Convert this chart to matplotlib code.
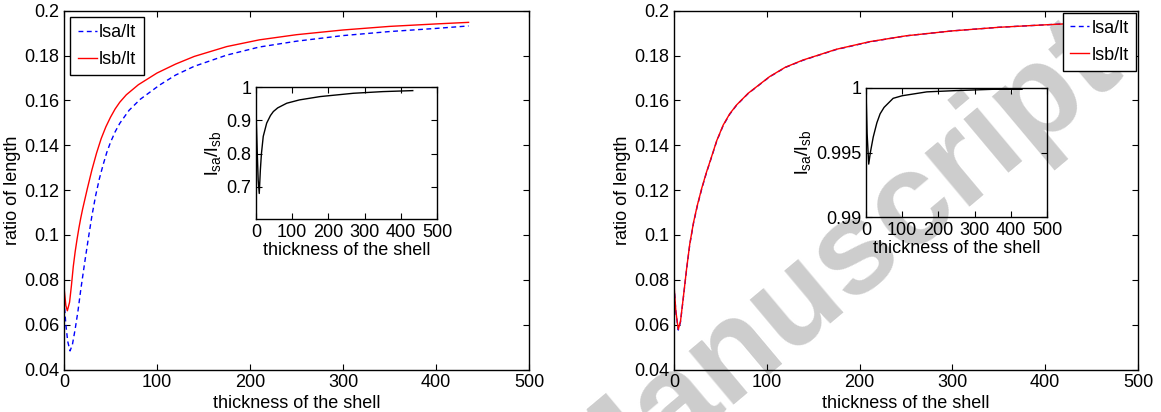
import matplotlib
matplotlib.use("Agg")
import matplotlib.pyplot as plt

plt.rcParams['font.family'] = ['Liberation Sans', 'DejaVu Sans']
plt.rcParams['mathtext.default'] = 'regular'

# ---------------- data ----------------
# left panel
left_x_lsb = [0, 2, 3.6, 6, 8, 10, 12, 14, 16, 18, 20, 25, 30, 35, 40, 45, 50, 55, 60,
              67, 80, 100, 120, 140, 175, 210, 250, 300, 350, 400, 435]
left_lsb = [0.0766, 0.0685, 0.0662, 0.0700, 0.0775, 0.0860, 0.0925, 0.0980, 0.1030,
            0.1075, 0.1115, 0.1205, 0.1290, 0.1365, 0.1430, 0.1482, 0.1525, 0.1562,
            0.1592, 0.1625, 0.1670, 0.1722, 0.1762, 0.1796, 0.1840, 0.1870, 0.1893,
            0.1914, 0.1930, 0.1941, 0.1948]
left_x_lsa = [0, 2, 4, 6.5, 9, 12, 15, 18, 22, 26, 30, 34, 38, 42, 46, 50, 55, 60, 70,
              82, 103, 120, 140, 175, 210, 250, 300, 350, 400, 435]
left_lsa = [0.0710, 0.0600, 0.0525, 0.0483, 0.0510, 0.0580, 0.0660, 0.0755, 0.0870,
            0.0980, 0.1085, 0.1175, 0.1250, 0.1312, 0.1368, 0.1413, 0.1460, 0.1498,
            0.1556, 0.1605, 0.1669, 0.1713, 0.1752, 0.1802, 0.1838, 0.1864, 0.1889,
            0.1907, 0.1921, 0.1932]
left_inset_x = [0, 3, 6, 9, 12, 15, 20, 29.5, 40, 48, 60, 85, 120, 177, 269, 350, 433]
left_inset_ratio = [0.93, 0.82, 0.72, 0.68, 0.75, 0.80, 0.852, 0.892, 0.915, 0.927,
                    0.938, 0.952, 0.962, 0.972, 0.982, 0.987, 0.990]

# right panel
right_x = [0, 2, 4.6, 7, 10, 13.6, 17, 21, 25, 30, 35, 39, 46, 53, 60, 67.5, 80, 103,
           120, 139, 175, 211, 250, 300, 350, 400, 435]
right_lsb = [0.0777, 0.0660, 0.0579, 0.0615, 0.0720, 0.0850, 0.0960, 0.1055, 0.1130,
             0.1210, 0.1280, 0.1330, 0.1420, 0.1490, 0.1540, 0.1580, 0.1632, 0.1706,
             0.1748, 0.1780, 0.1828, 0.1862, 0.1888, 0.1910, 0.1926, 0.1937, 0.1944]
right_lsa = [0.0776, 0.0657, 0.0576, 0.0612, 0.0717, 0.0847, 0.0957, 0.1052, 0.1127,
             0.1207, 0.1278, 0.1328, 0.1418, 0.1488, 0.1538, 0.1579, 0.1631, 0.1705,
             0.1747, 0.1779, 0.1827, 0.1861, 0.1888, 0.1910, 0.1926, 0.1937, 0.1944]
right_inset_x = [0, 3, 7.5, 12, 20, 30, 39, 50, 75, 100, 168, 250, 350, 431]
right_inset_ratio = [0.9999, 0.9965, 0.9941, 0.9950, 0.9962, 0.9973, 0.9980, 0.9985,
                     0.9992, 0.9994, 0.9997, 0.9998, 0.9999, 0.9999]

main_yticks = [0.04, 0.06, 0.08, 0.10, 0.12, 0.14, 0.16, 0.18, 0.20]
main_yticklabels = ['0.04', '0.06', '0.08', '0.1', '0.12', '0.14', '0.16', '0.18', '0.2']
xticks = [0, 100, 200, 300, 400, 500]
left_inset_yticks = [0.7, 0.8, 0.9, 1.0]
left_inset_yticklabels = ['0.7', '0.8', '0.9', '1']
right_inset_yticks = [0.99, 0.995, 1.0]
right_inset_yticklabels = ['0.99', '0.995', '1']

FS = 13

fig = plt.figure(figsize=(11.61, 4.12), dpi=100)

# watermark (below everything)
fig.text(832 / 1161, 1 - 270 / 412, 'Manuscript', fontsize=95, fontweight='bold',
         color='#cdcdcd', rotation=40, rotation_mode='anchor',
         ha='center', va='center', zorder=-10,
         family=['Liberation Sans', 'DejaVu Sans'])


def style(ax, fs):
    ax.patch.set_visible(False)
    ax.tick_params(direction='in', top=True, right=True, length=4, width=0.8,
                   labelsize=fs, pad=3.5)
    for s in ax.spines.values():
        s.set_linewidth(1.0)


leg_kw = dict(fontsize=FS, frameon=True, fancybox=False, edgecolor='black',
              framealpha=1, handlelength=1.05, handletextpad=0.15,
              borderpad=0.4, labelspacing=0.55)

# ---------------- left main ----------------
axL = fig.add_axes([64 / 1161, 1 - 369.5 / 412, 465 / 1161, 358.8 / 412])
axL.plot(left_x_lsa, left_lsa, color='b', lw=1.0, dashes=(3.5, 2.5), label='lsa/lt')
axL.plot(left_x_lsb, left_lsb, color='r', lw=1.0, label='lsb/lt')
axL.set_xlim(0, 500)
axL.set_ylim(0.04, 0.2)
axL.set_xticks(xticks)
axL.set_yticks(main_yticks)
axL.set_yticklabels(main_yticklabels)
axL.set_xlabel('thickness of the shell', fontsize=FS, labelpad=2.5)
axL.set_ylabel('ratio of length', fontsize=FS, labelpad=2)
style(axL, FS)
legL = axL.legend(loc='upper left', borderaxespad=0.35, **leg_kw)
legL.get_frame().set_linewidth(1.0)

# left inset
axLi = fig.add_axes([256 / 1161, 1 - 219 / 412, 181 / 1161, 131.7 / 412])
axLi.plot(left_inset_x, left_inset_ratio, color='k', lw=1.0)
axLi.set_xlim(0, 500)
axLi.set_ylim(0.603, 1.0)
axLi.set_xticks(xticks)
axLi.set_yticks(left_inset_yticks)
axLi.set_yticklabels(left_inset_yticklabels)
axLi.set_xlabel('thickness of the shell', fontsize=FS, labelpad=0.5)
axLi.set_ylabel(r'$l_{sa}/l_{sb}$', fontsize=FS + 1, labelpad=2)
style(axLi, FS)

# ---------------- right main ----------------
axR = fig.add_axes([674 / 1161, 1 - 369.5 / 412, 464 / 1161, 358.8 / 412])
axR.plot(right_x, right_lsa, color='b', lw=1.0, dashes=(3.5, 2.5), label='lsa/lt')
axR.plot(right_x, right_lsb, color='r', lw=1.0, label='lsb/lt')
axR.set_xlim(0, 500)
axR.set_ylim(0.04, 0.2)
axR.set_xticks(xticks)
axR.set_yticks(main_yticks)
axR.set_yticklabels(main_yticklabels)
axR.set_xlabel('thickness of the shell', fontsize=FS, labelpad=2.5)
axR.set_ylabel('ratio of length', fontsize=FS, labelpad=2)
style(axR, FS)
legR = axR.legend(loc='upper right', borderaxespad=0.1, **leg_kw)
legR.get_frame().set_linewidth(1.0)

# right inset
axRi = fig.add_axes([866 / 1161, 1 - 217 / 412, 181 / 1161, 129 / 412])
axRi.plot(right_inset_x, right_inset_ratio, color='k', lw=1.0)
axRi.set_xlim(0, 500)
axRi.set_ylim(0.99, 1.0)
axRi.set_xticks(xticks)
axRi.set_yticks(right_inset_yticks)
axRi.set_yticklabels(right_inset_yticklabels)
axRi.set_xlabel('thickness of the shell', fontsize=FS, labelpad=0.5)
axRi.set_ylabel(r'$l_{sa}/l_{sb}$', fontsize=FS + 1, labelpad=2)
style(axRi, FS)

fig.savefig('out.png', dpi=100)
